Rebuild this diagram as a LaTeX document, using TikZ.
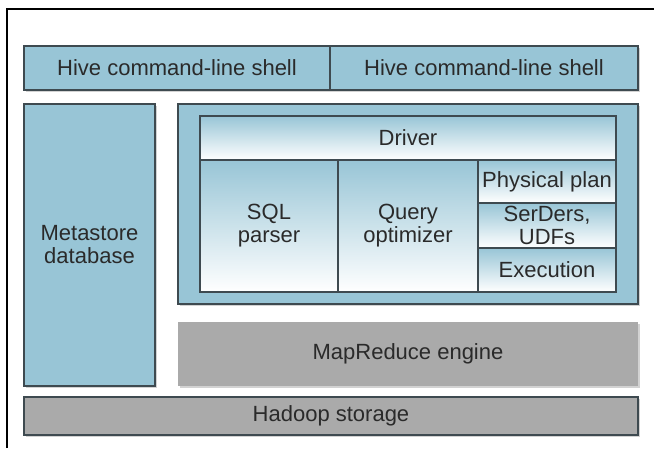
\documentclass[tikz,border=0pt]{standalone}
\usepackage{fontspec}
\setmainfont{Liberation Sans}
\usetikzlibrary{shadows}
\definecolor{hblue}{HTML}{98C5D6}
\definecolor{hgray}{HTML}{AAAAAA}
\definecolor{hline}{HTML}{3E4A50}
\definecolor{htext}{HTML}{2A2A2A}
\tikzset{
  box/.style={draw=hline, line width=1.4pt, anchor=north west, inner sep=0pt, outer sep=0pt,
    text=htext, font=\fontsize{22}{23}\selectfont, align=center,
    drop shadow={shadow xshift=1.5pt, shadow yshift=-1.5pt, opacity=0.35}},
  bluebox/.style={box, fill=hblue},
  graybox/.style={box, fill=hgray},
  cell/.style={draw=hline, line width=1.2pt, anchor=north west, inner sep=0pt, outer sep=0pt,
    text=htext, font=\fontsize{22}{23}\selectfont, align=center,
    top color=hblue, bottom color=white},
  frameline/.style={draw=black, line width=1.2pt}
}
\begin{document}
\begin{tikzpicture}[x=1pt,y=-1pt]
\useasboundingbox (0,0) rectangle (654,448);
\fill[white] (0,0) rectangle (654,448);
\coordinate (fa) at (7,448);
\coordinate (fb) at (7,9);
\coordinate (fc) at (654,9);
\draw[frameline] (fa) -- (fb) -- (fc);
% top shells
\node[bluebox, minimum width=306pt, minimum height=44pt] (shell1) at (24,46) {Hive command-line shell};
\node[bluebox, minimum width=308pt, minimum height=44pt] (shell2) at (330,46) {Hive command-line shell};
% metastore
\node[bluebox, minimum width=131pt, minimum height=282pt] (meta) at (24,104) {Metastore\\database};
% hive box
\node[bluebox, minimum width=460pt, minimum height=200pt] (hive) at (178,104) {};
% inner cells
\node[cell, minimum width=416pt, minimum height=44pt] (driver) at (200,116) {Driver};
\node[cell, minimum width=138pt, minimum height=132pt] (sql) at (200,160) {SQL\\parser};
\node[cell, minimum width=140pt, minimum height=132pt] (opt) at (338,160) {Query\\optimizer};
\node[cell, minimum width=138pt, minimum height=43pt] (phys) at (478,160) {Physical plan};
\node[cell, minimum width=138pt, minimum height=45pt] (serde) at (478,203) {SerDers,\\UDFs};
\node[cell, minimum width=138pt, minimum height=44pt] (exec) at (478,248) {Execution};
% mapreduce
\node[graybox, draw=none, minimum width=460pt, minimum height=64pt] (mr) at (178,322) {MapReduce engine};
% hadoop
\node[graybox, minimum width=614pt, minimum height=38pt] (hdfs) at (24,397) {Hadoop storage};
\end{tikzpicture}
\end{document}
